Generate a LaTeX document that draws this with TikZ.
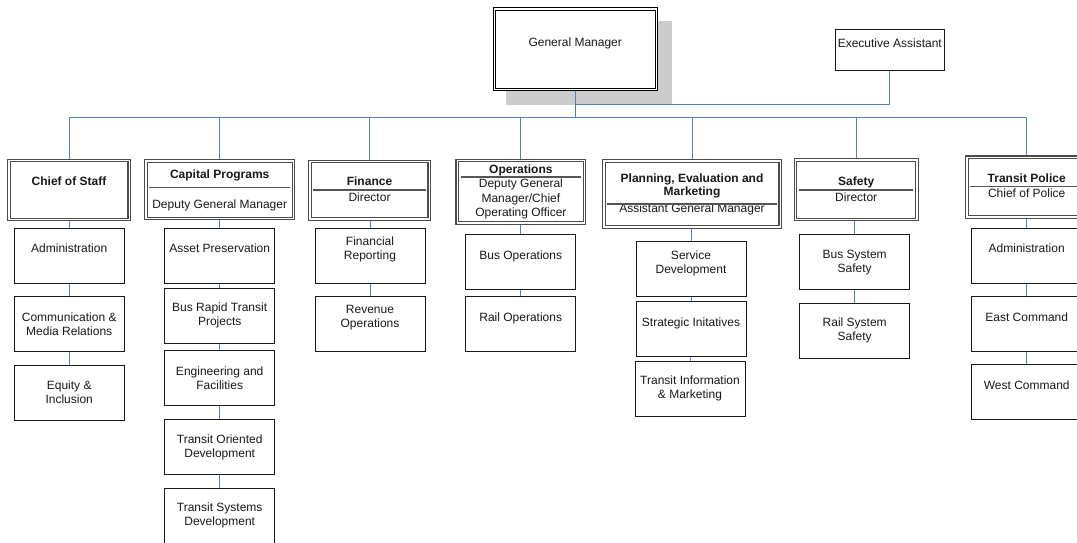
\documentclass[tikz,border=0pt]{standalone}
\usepackage{fontspec}
\setmainfont{Liberation Sans}
\definecolor{linkblue}{RGB}{79,129,189}
\definecolor{shadegray}{RGB}{204,204,204}
\definecolor{rulegray}{RGB}{85,85,85}
\pgfdeclarelayer{background}
\pgfsetlayers{background,main}
\tikzset{
  subbox/.style={draw=black!90, line width=0.9pt, fill=white, minimum width=110pt, minimum height=55pt, align=center, inner sep=0pt},
  headbox/.style={draw=black!70, line width=1.2pt, double=white, double distance=1.4pt, fill=white, inner sep=0pt},
  bluelink/.style={draw=linkblue, line width=0.9pt},
  seprule/.style={draw=rulegray, line width=1.4pt},
  headtitle/.style={font=\fontsize{12}{14}\selectfont\bfseries, align=center, text height=9pt, text depth=2.5pt, inner sep=0pt},
  headsub/.style={align=center, text height=9pt, text depth=2.5pt, inner sep=0pt}
}
\begin{document}
\begin{tikzpicture}[x=1pt,y=-1pt,font=\fontsize{12}{14}\selectfont,text=black!90]
\useasboundingbox (0,0) rectangle (1077,542);
\clip (0,0) rectangle (1077,542);
\node[headbox,draw=black,line width=1pt,minimum width=162pt,minimum height=80.4pt,align=center] (gm) at (575.2,49) {General Manager\\\mbox{}};
\node[subbox,minimum width=109pt,minimum height=40.7pt] (ea) at (889.8,49.7) {Executive Assistant\\\mbox{}};
\node[headbox,minimum width=120.4pt,minimum height=59pt] (cs) at (69,190) {};
\node[headbox,minimum width=147.7pt,minimum height=57.7pt] (cp) at (219.7,189.7) {};
\node[headbox,minimum width=119.4pt,minimum height=57.7pt] (fin) at (369.5,190.3) {};
\node[headbox,minimum width=127.3pt,minimum height=62.3pt] (ops) at (520.9,191.7) {};
\node[headbox,minimum width=176.4pt,minimum height=66pt] (pem) at (692,193.8) {};
\node[headbox,minimum width=121.3pt,minimum height=59.7pt] (saf) at (856.2,189.7) {};
\node[headbox,minimum width=119.7pt,minimum height=59.6pt] (tp) at (1026.7,187) {};
\node[headtitle] (cst) at (69,182.5) {Chief of Staff};
\node[headtitle] (cpt) at (219.7,174.8) {Capital Programs};
\node[headsub] (cps) at (219.7,204.8) {Deputy General Manager};
\node[headtitle] (fint) at (369.5,182.5) {Finance};
\node[headsub] (fins) at (369.5,197.8) {Director};
\node[headtitle] (opst) at (520.9,169.8) {Operations};
\node[align=center,inner sep=0pt,font=\fontsize{12}{14.5}\selectfont] (opss) at (520.9,199.3) {Deputy General\\Manager/Chief\\Operating Officer};
\node[font=\fontsize{12}{13.4}\selectfont\bfseries,align=center,inner sep=0pt] (pemt) at (692,186) {Planning, Evaluation and\\Marketing};
\node[headsub] (pems) at (692,209.2) {Assistant General Manager};
\node[headtitle] (saft) at (856.2,182.5) {Safety};
\node[headsub] (safs) at (856.2,197.8) {Director};
\node[headtitle] (tpt) at (1026.7,179.5) {Transit Police};
\node[headsub] (tps) at (1026.7,193.8) {Chief of Police};
\draw[seprule] ([xshift=4pt]cp.west |- 0,187.7) -- ([xshift=-4pt]cp.east |- 0,187.7);
\draw[seprule] ([xshift=4pt]fin.west |- 0,190) -- ([xshift=-4pt]fin.east |- 0,190);
\draw[seprule] ([xshift=4pt]ops.west |- 0,177) -- ([xshift=-4pt]ops.east |- 0,177);
\draw[seprule] ([xshift=4pt]pem.west |- 0,204) -- ([xshift=-4pt]pem.east |- 0,204);
\draw[seprule] ([xshift=4pt]saf.west |- 0,190) -- ([xshift=-4pt]saf.east |- 0,190);
\draw[seprule] ([xshift=4pt]tp.west |- 0,186.7) -- ([xshift=-4pt]tp.east |- 0,186.7);
\node[subbox] (adm1) at (69.2,255.5) {Administration\\\mbox{}};
\node[subbox] (com) at (69.2,323.8) {Communication \&\\Media Relations};
\node[subbox] (eqi) at (69.2,392.5) {Equity \&\\Inclusion};
\node[subbox] (ap) at (219.7,255.5) {Asset Preservation\\\mbox{}};
\node[subbox] (brt) at (219.7,315.5) {Bus Rapid Transit\\Projects};
\node[subbox] (eng) at (219.7,378.3) {Engineering and\\Facilities};
\node[subbox] (tod) at (219.7,447.3) {Transit Oriented\\Development};
\node[subbox] (tsd) at (219.7,515.5) {Transit Systems\\Development};
\node[subbox] (fr) at (370,255.5) {Financial\\Reporting\\\mbox{}};
\node[subbox] (rev) at (370,323.8) {Revenue\\Operations\\\mbox{}};
\node[subbox] (busop) at (520.7,261.8) {Bus Operations\\\mbox{}};
\node[subbox] (railop) at (520.7,323.8) {Rail Operations\\\mbox{}};
\node[subbox] (sd) at (691,268.8) {Service\\Development\\\mbox{}};
\node[subbox] (si) at (691,328.8) {Strategic Initatives\\\mbox{}};
\node[subbox] (tim) at (690,388.5) {Transit Information\\\& Marketing};
\node[subbox] (bss) at (854.7,262.2) {Bus System\\Safety};
\node[subbox] (rss) at (854.7,330.8) {Rail System\\Safety};
\node[subbox] (adm2) at (1026.7,255.5) {Administration\\\mbox{}};
\node[subbox] (east) at (1026.7,323.8) {East Command\\\mbox{}};
\node[subbox] (west) at (1026.7,392.2) {West Command\\\mbox{}};
\begin{pgfonlayer}{background}
\fill[shadegray] (506,21) rectangle (672,105);
\coordinate (busw) at (68.7,117.3);
\coordinate (buse) at (1026.7,117.3);
\coordinate (gmj) at (575.2,104);
\draw[bluelink] (busw) -- (buse);
\draw[bluelink] (gm.south) -- (gm.south |- busw);
\draw[bluelink] (ea.south) |- (gmj);
\foreach \h in {cs,cp,fin,ops,pem,saf,tp}
  \draw[bluelink] (\h.north) -- (\h.north |- busw);
\foreach \a/\b in {cs/adm1,adm1/com,com/eqi,cp/ap,ap/brt,brt/eng,eng/tod,tod/tsd,fin/fr,fr/rev,ops/busop,busop/railop,pem/sd,sd/si,si/tim,saf/bss,bss/rss,tp/adm2,adm2/east,east/west}
  \draw[bluelink] (\b.north |- \a.south) -- (\b.north);
\end{pgfonlayer}
\end{tikzpicture}
\end{document}
